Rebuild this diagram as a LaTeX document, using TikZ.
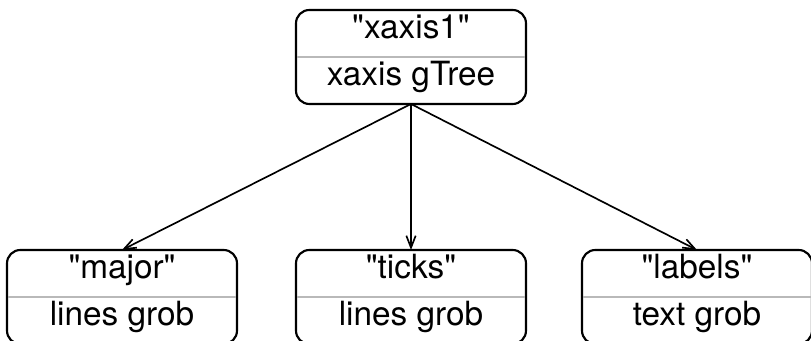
\documentclass[tikz,border=0pt]{standalone}
\usepackage{fontspec}
\setmainfont{TeX Gyre Heros}
\usetikzlibrary{positioning,arrows.meta,calc}

\begin{document}
\begin{tikzpicture}[
    x=0.75pt, y=0.75pt,
    grob/.style={draw, rounded corners=10pt, line width=1.6pt, outer sep=0pt, inner sep=0pt, minimum width=172.5pt, minimum height=70.5pt},
    grobtext/.style={inner sep=0pt, font=\fontsize{25}{29}\selectfont, text height=0.72em, text depth=0pt},
    divider/.style={draw=gray!55, line width=1.5pt},
    connector/.style={-{Straight Barb[length=9pt, width=7pt]}, line width=1.25pt}
]
    \useasboundingbox (0,0) rectangle (811,341);

    \node [grob] (xaxis) at (411,284) {};
    \node [grob, below=109.5pt of xaxis] (ticks) {};
    \node [grob, left=44.25pt of ticks] (major) {};
    \node [grob, right=42pt of ticks] (labels) {};

    \foreach \g in {xaxis, ticks, major, labels}
        \draw [divider] ([xshift=0.8pt]\g.west) -- ([xshift=-0.8pt]\g.east);

    \node [grobtext] (xaxis_name) at ($(xaxis.center)+(0,23.5)$) {\textquotedbl xaxis1\textquotedbl};
    \node [grobtext] (xaxis_class) at ($(xaxis.center)+(0,-23.5)$) {xaxis gTree};
    \node [grobtext] (major_name) at ($(major.center)+(0,23.5)$) {\textquotedbl major\textquotedbl};
    \node [grobtext] (major_class) at ($(major.center)+(0,-23.5)$) {lines grob};
    \node [grobtext] (ticks_name) at ($(ticks.center)+(0,23.5)$) {\textquotedbl ticks\textquotedbl};
    \node [grobtext] (ticks_class) at ($(ticks.center)+(0,-23.5)$) {lines grob};
    \node [grobtext] (labels_name) at ($(labels.center)+(0,23.5)$) {\textquotedbl labels\textquotedbl};
    \node [grobtext] (labels_class) at ($(labels.center)+(0,-23.5)$) {text grob};

    \draw [connector] (xaxis.south) -- (major.north);
    \draw [connector] (xaxis.south) -- (ticks.north);
    \draw [connector] (xaxis.south) -- (labels.north);

\end{tikzpicture}
\end{document}
